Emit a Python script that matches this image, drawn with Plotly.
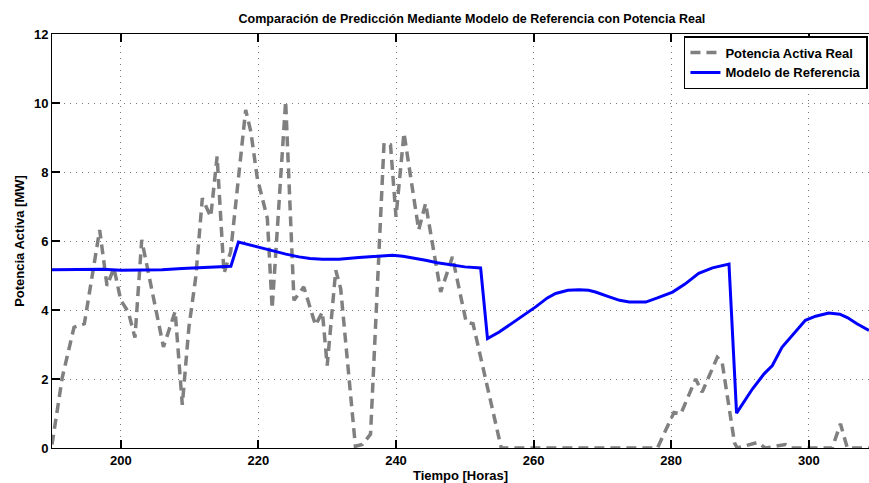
import plotly.graph_objects as go

# Potencia Activa Real (dashed gray)
real_t = [190.0, 191.5, 193.2, 194.7, 196.93, 198.0, 199.0, 200.0, 201.1, 202.06,
          203.04, 204.1, 206.2, 207.9, 208.94, 209.9, 210.9, 211.85, 213.07, 214.0,
          215.0, 215.97, 218.15, 218.9, 219.84, 220.57, 221.3, 222.0, 223.96, 225.17,
          226.6, 228.3, 229.3, 230.0, 231.24, 231.96, 234.1, 235.1, 236.3, 238.26,
          239.2, 240.0, 241.16, 243.3, 244.3, 246.5, 248.2, 250.2, 251.2, 255.3,
          278.0, 280.4, 281.4, 283.56, 284.5, 286.7, 287.4, 289.2, 289.6, 292.5,
          293.7, 296.6, 297.5, 303.4, 304.6, 305.6, 308.75]
real_p = [0.1, 2.05, 3.5, 3.6, 6.32, 4.7, 5.22, 4.28, 3.94, 3.2,
          6.03, 4.96, 2.93, 3.96, 1.25, 3.5, 4.96, 7.24, 6.7, 8.45,
          5.06, 5.69, 9.8, 9.17, 7.82, 7.24, 6.66, 4.04, 10.05, 4.28,
          4.67, 3.56, 3.94, 2.39, 5.15, 4.62, 0.05, 0.1, 0.4, 8.84,
          8.79, 6.7, 9.13, 6.32, 7.09, 4.52, 5.54, 3.65, 3.6, 0.0,
          0.0, 1.03, 0.99, 2.0, 1.62, 2.63, 2.49, 0.15, 0.0, 0.16,
          0.0, 0.1, 0.0, 0.0, 0.7, 0.0, 0.0]

# Modelo de Referencia (solid blue)
model_t = [190, 194, 197.4, 200, 203.6, 206, 208.9, 212, 216, 217.1,
           219, 221.5, 224, 225.9, 227.5, 229.3, 231.7, 234.6, 236.1, 238,
           239.5, 241, 242.5, 244.3, 246, 248.2, 250, 252.3, 253.3, 255.0,
           257.9, 260.3, 262, 263.2, 265, 266.6, 268, 269.0, 271, 272.5,
           273.9, 276.3, 278, 280.2, 282, 284.0, 286, 288.4, 289.5, 291.8,
           293.5, 294.7, 296.1, 298, 299.5, 301, 302.9, 304.5, 305.6, 307, 308.75]
model_p = [5.17, 5.18, 5.18, 5.15, 5.15, 5.17, 5.2, 5.23, 5.27, 5.97,
           5.87, 5.74, 5.62, 5.54, 5.49, 5.47, 5.47, 5.52, 5.54, 5.58,
           5.59, 5.56, 5.51, 5.44, 5.37, 5.3, 5.25, 5.22, 3.17, 3.36,
           3.75, 4.09, 4.35, 4.48, 4.57, 4.59, 4.57, 4.52, 4.38, 4.28,
           4.23, 4.23, 4.35, 4.52, 4.75, 5.06, 5.22, 5.33, 1.01, 1.71,
           2.15, 2.39, 2.92, 3.35, 3.7, 3.82, 3.91, 3.88, 3.78, 3.6, 3.41]

x_ticks = [200, 220, 240, 260, 280, 300]
y_ticks = [0, 2, 4, 6, 8, 10, 12]

FONT = "Liberation Sans, Arial, Helvetica, sans-serif"
W, H = 869, 483

fig = go.Figure()
fig.add_trace(go.Scatter(
    x=real_t, y=real_p, mode="lines", name="Potencia Activa Real",
    line=dict(color="#808080", width=3.5, dash="10px,6px"),
))
fig.add_trace(go.Scatter(
    x=model_t, y=model_p, mode="lines", name="Modelo de Referencia",
    line=dict(color="#0000FF", width=3),
))

axis_common = dict(
    showline=True, linecolor="black", linewidth=1,
    ticks="inside", ticklen=8, tickcolor="black", tickwidth=1.5,
    showgrid=True, gridcolor="#777777", gridwidth=1, griddash="1px,5px",
    zeroline=False,
    tickfont=dict(family=FONT, size=13, color="black", weight="bold"),
)

fig.update_layout(
    width=W, height=H,
    margin=dict(l=52, r=0, t=34, b=35),
    paper_bgcolor="white", plot_bgcolor="white",
    font=dict(family=FONT, color="black"),
    title=dict(
        text="Comparación de Predicción Mediante Modelo de Referencia con Potencia Real",
        font=dict(family=FONT, size=12.5, color="black", weight="bold"),
        x=0.514, xref="paper", xanchor="center",
        y=1 - 19 / H, yref="container", yanchor="middle",
    ),
    xaxis=dict(
        range=[190, 308.75], tickvals=x_ticks, mirror="ticks",
        title=dict(text="Tiempo [Horas]", standoff=4,
                   font=dict(family=FONT, size=13, color="black", weight="bold")),
        **axis_common,
    ),
    yaxis=dict(
        range=[0, 12], tickvals=y_ticks, mirror=False,
        title=dict(text="Potencia Activa [MW]", standoff=6,
                   font=dict(family=FONT, size=13, color="black", weight="bold")),
        **axis_common,
    ),
    legend=dict(
        x=0.7735, y=0.995, xanchor="left", yanchor="top",
        bgcolor="white", bordercolor="black", borderwidth=1.5,
        font=dict(family=FONT, size=13, color="black", weight="bold"),
        tracegroupgap=0, itemwidth=30,
    ),
    showlegend=True,
)

# remove the default page margin so the figure fills the window exactly
fig.write_html(
    "out.html",
    config={"displayModeBar": False},
    post_script="document.body.style.margin='0';document.body.style.overflow='hidden';",
)
